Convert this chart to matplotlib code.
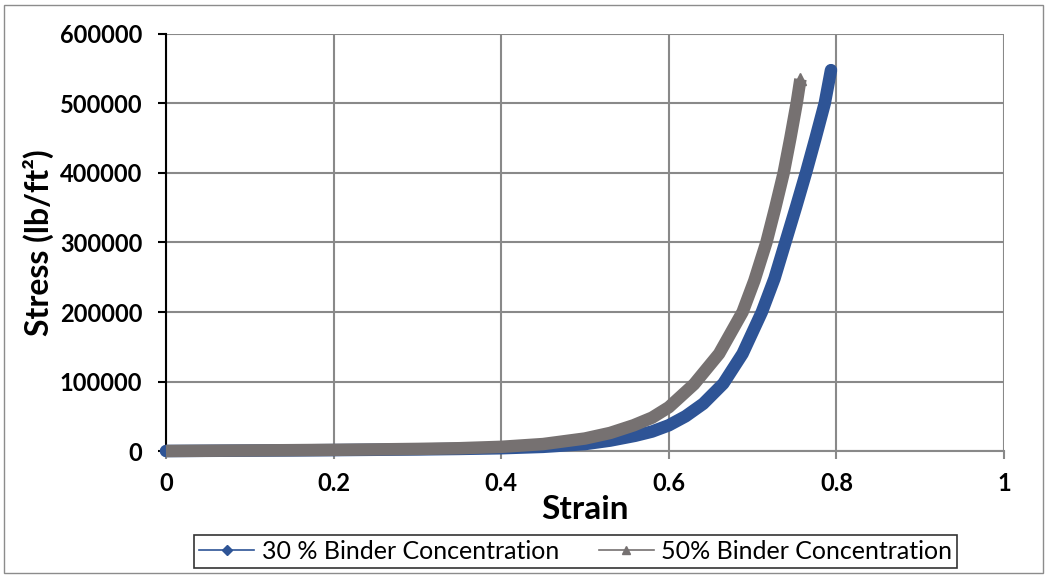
import numpy as np
import matplotlib.pyplot as plt
from matplotlib.lines import Line2D
from matplotlib.patches import Rectangle

# ----- data -----
strain_30 = [0, 0.05, 0.1, 0.15, 0.2, 0.25, 0.3, 0.35, 0.4, 0.45, 0.5, 0.53,
             0.56, 0.58, 0.6, 0.62, 0.641, 0.665, 0.688, 0.711, 0.726,
             0.739, 0.752, 0.7636, 0.775, 0.786, 0.7935]
stress_30 = [0, 300, 600, 900, 1300, 1800, 2300, 3000, 4000, 6000, 10000, 15000,
             22000, 28000, 37000, 50000, 68000, 97000, 140000, 200000, 248000,
             300000, 352000, 400000, 450000, 500000, 548000]

strain_50 = [0, 0.05, 0.1, 0.15, 0.2, 0.25, 0.3, 0.35, 0.4, 0.45, 0.5, 0.53,
             0.558, 0.58, 0.6, 0.63, 0.66, 0.688, 0.702, 0.7164, 0.727, 0.737,
             0.745, 0.7525, 0.757]
stress_50 = [0, 400, 800, 1200, 1700, 2300, 3000, 4000, 6000, 10000, 18000, 26000,
             37000, 48000, 63000, 96000, 140000, 200000, 245000, 300000, 350000, 400000,
             450000, 500000, 535000]

labels = ["30 % Binder Concentration", "50% Binder Concentration"]
x_ticks = [0, 0.2, 0.4, 0.6, 0.8, 1]
x_tick_labels = ["0", "0.2", "0.4", "0.6", "0.8", "1"]
y_ticks = [0, 100000, 200000, 300000, 400000, 500000, 600000]
y_tick_labels = ["0", "100000", "200000", "300000", "400000", "500000", "600000"]

blue = "#2E5496"
gray = "#767171"
grid_c = "#898989"

plt.rcParams['font.family'] = ['Lato', 'DejaVu Sans']

fig = plt.figure(figsize=(10.47, 5.78), dpi=100)
ax = fig.add_axes([0.1585, 0.2197, 0.8005, 0.7215])

ax.plot(strain_30, stress_30, color=blue, lw=9, solid_capstyle='round',
        solid_joinstyle='round', clip_on=False, zorder=3)
ax.plot(strain_50, stress_50, color=gray, lw=9, solid_capstyle='butt',
        solid_joinstyle='round', clip_on=False, zorder=4)
# pointed end of the gray series (triangle markers in the original)
ax.plot(strain_50[-1:], stress_50[-1:], marker='^', ms=9, color=gray,
        clip_on=False, zorder=4)

ax.set_xlim(0, 1)
ax.set_ylim(0, 600000)
ax.set_xticks(x_ticks)
ax.set_xticklabels(x_tick_labels, fontsize=17, fontweight='bold')
ax.set_yticks(y_ticks)
ax.set_yticklabels(y_tick_labels, fontsize=17, fontweight='bold')

ax.grid(True, color=grid_c, lw=1.5)
ax.set_axisbelow(True)
for s in ['top', 'right']:
    ax.spines[s].set_visible(False)
ax.spines['left'].set_color('black')
ax.spines['left'].set_linewidth(1.5)
ax.spines['bottom'].set_color(grid_c)
ax.spines['bottom'].set_linewidth(1.5)
ax.tick_params(axis='y', length=6, width=1.5, color='black', pad=11)
ax.tick_params(axis='x', length=6, width=1.5, color=grid_c, pad=9)

ax.set_xlabel("Strain", fontsize=24, fontweight='bold', labelpad=0)
ax.set_ylabel("Stress (lb/ft²)", fontsize=23, fontweight='bold', labelpad=4)

handles = [Line2D([], [], color=blue, lw=1.2, marker='D', ms=5),
           Line2D([], [], color=gray, lw=1.2, marker='^', ms=6)]
leg = fig.legend(handles, labels, loc='center', bbox_to_anchor=(0.55, 0.046),
                 ncol=2, fontsize=18, frameon=True, fancybox=False,
                 edgecolor='black', handlelength=2.2, handletextpad=0.3,
                 columnspacing=1.6, borderpad=0.2, borderaxespad=0)
leg.get_frame().set_linewidth(1.2)

fig.patches.append(Rectangle((0.004, 0.008), 0.992, 0.984, transform=fig.transFigure,
                             fill=False, edgecolor='#8c8c8c', lw=1))

fig.savefig("out.png", dpi=100)
